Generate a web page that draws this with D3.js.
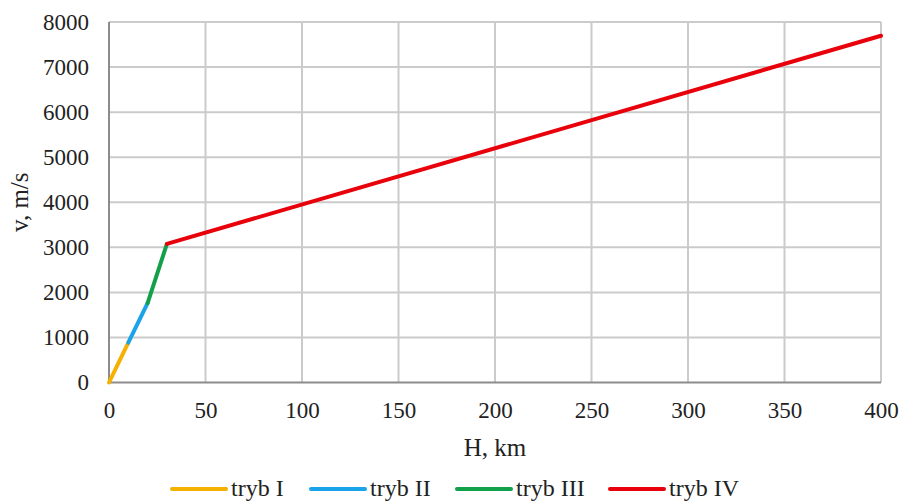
<!DOCTYPE html>
<html><head><meta charset="utf-8">
<script src="https://cdn.jsdelivr.net/npm/d3@7"></script>
<style>body{margin:0;background:#fff}svg{display:block}</style>
</head><body>
<script>
const xTicks = [0,50,100,150,200,250,300,350,400];
const yTicks = [0,1000,2000,3000,4000,5000,6000,7000,8000];
const seriesNames = ["tryb I","tryb II","tryb III","tryb IV"];
const seriesColors = ["#f5b000","#1aa3e8","#12a04a","#e8000b"];
const trybI = [[0,0],[10,885]];
const trybII = [[10,885],[20,1760]];
const trybIII = [[20,1760],[30,3075]];
const trybIV = [[30,3075],[400,7695]];
const seriesData = [trybI,trybII,trybIII,trybIV];

const W=900,H=501;
const m={l:109,r:19,t:22,b:118.5};
const svg=d3.select("body").append("svg").attr("width",W).attr("height",H);
const x=d3.scaleLinear().domain([0,400]).range([m.l,W-m.r]);
const y=d3.scaleLinear().domain([0,8000]).range([H-m.b,m.t]);
const font="'Liberation Serif','Times New Roman',serif";
const fmt=d3.format("d");

const g=svg.append("g");
g.selectAll(".vg").data(xTicks.slice(1)).enter().append("line")
 .attr("x1",d=>x(d)).attr("x2",d=>x(d)).attr("y1",y(0)).attr("y2",y(8000))
 .attr("stroke","#cbcbcb").attr("stroke-width",2);
g.selectAll(".hg").data(yTicks.slice(1)).enter().append("line")
 .attr("x1",x(0)).attr("x2",x(400)).attr("y1",d=>y(d)).attr("y2",d=>y(d))
 .attr("stroke","#cbcbcb").attr("stroke-width",2);
g.append("line").attr("x1",x(0)).attr("x2",x(0)).attr("y1",y(0)).attr("y2",y(8000)).attr("stroke","#8c8c8c").attr("stroke-width",2);
g.append("line").attr("x1",x(0)).attr("x2",x(400)).attr("y1",y(0)).attr("y2",y(0)).attr("stroke","#8c8c8c").attr("stroke-width",2);

const xa=d3.axisBottom(x).tickValues(xTicks).tickFormat(fmt).tickSize(0);
const xg=svg.append("g").attr("transform",`translate(0,${y(0)})`).call(xa);
xg.select(".domain").remove();
xg.selectAll("text").attr("y",35.5).attr("dy",0).attr("font-family",font).attr("font-size",23).attr("fill","#222");
const ya=d3.axisLeft(y).tickValues(yTicks).tickFormat(fmt).tickSize(0).tickPadding(20);
const yg=svg.append("g").attr("transform",`translate(${x(0)},0)`).call(ya);
yg.select(".domain").remove();
yg.selectAll("text").attr("font-family",font).attr("font-size",23).attr("fill","#222");

const line=d3.line().x(d=>x(d[0])).y(d=>y(d[1]));
seriesData.forEach((s,i)=>{
  svg.append("path").datum(s).attr("d",line).attr("fill","none")
   .attr("stroke",seriesColors[i]).attr("stroke-width",4).attr("stroke-linecap","round").attr("stroke-linejoin","round");
});

svg.append("text").attr("x",(x(0)+x(400))/2).attr("y",456).attr("text-anchor","middle")
 .attr("font-family",font).attr("font-size",25).attr("fill","#222").text("H, km");
svg.append("text").attr("transform",`translate(28,${(y(0)+y(8000))/2}) rotate(-90)`).attr("text-anchor","middle")
 .attr("font-family",font).attr("font-size",25).attr("fill","#222").text("v, m/s");

const legX=[172,311,457,610];
seriesNames.forEach((n,i)=>{
  const lg=svg.append("g").attr("transform",`translate(${legX[i]},489)`);
  lg.append("line").attr("x1",0).attr("x2",54).attr("y1",0).attr("y2",0)
   .attr("stroke",seriesColors[i]).attr("stroke-width",4).attr("stroke-linecap","round");
  lg.append("text").attr("x",59).attr("y",7).attr("font-family",font).attr("font-size",24).attr("fill","#222").text(n);
});
</script>
</body></html>
